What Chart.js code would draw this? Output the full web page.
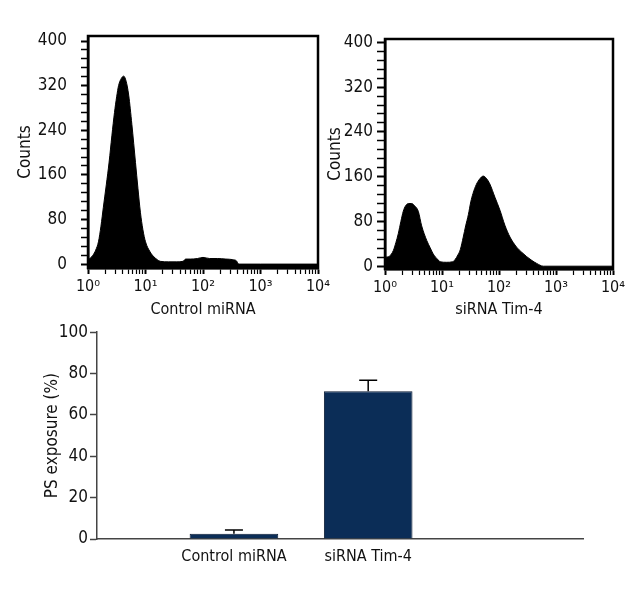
<!DOCTYPE html>
<html><head><meta charset="utf-8">
<script src="https://cdn.jsdelivr.net/npm/chart.js@4/dist/chart.umd.min.js"></script>
<style>
html,body{margin:0;padding:0;background:#fff;}
body{width:640px;height:600px;position:relative;overflow:hidden;}
canvas{position:absolute;}
</style></head><body>
<canvas id="h1" width="340" height="320" style="left:0;top:0"></canvas>
<canvas id="h2" width="320" height="320" style="left:320px;top:0"></canvas>
<canvas id="bar" width="640" height="280" style="left:0;top:320px"></canvas>
<script>
// ---- Histogram 1: Control miRNA ----
const hist1Fluor  = [1, 1.1, 1.22, 1.36, 1.52, 1.68, 1.85, 2.08, 2.33, 2.6, 2.89, 3.15, 3.4, 3.8, 4.17, 4.6, 5.1, 5.8, 6.7, 7.4, 8.15, 9, 10, 12, 14, 16, 18, 25, 35, 45, 50, 60, 80, 100, 130, 180, 250, 330, 380, 420, 1000, 10000];
const hist1Counts = [8, 11, 16, 25, 40, 68, 102, 142, 183, 230, 272, 300, 320, 333, 337, 328, 303, 250, 182, 135, 93, 62, 40, 22, 13, 8, 5, 4, 4, 5, 9, 9, 10, 12, 10, 10, 9, 8, 6, 0, 0, 0];
// ---- Histogram 2: siRNA Tim-4 ----
const hist2Fluor  = [1, 1.2, 1.4, 1.55, 1.71, 1.9, 2.09, 2.3, 2.6, 2.94, 3.3, 3.84, 4.4, 5.4, 6.2, 7.0, 8.6, 9.2, 12, 15.5, 17, 19, 21, 23.6, 26, 29, 32, 35, 40, 46, 53, 60, 69, 85, 104, 127, 156, 204, 250, 307, 380, 458, 600, 1000, 10000];
const hist2Counts = [16, 18, 28, 42, 58, 80, 98, 108, 112, 112, 108, 98, 72, 46, 33, 22, 11, 8, 7, 8, 12, 20, 30, 52, 72, 92, 115, 130, 146, 156, 161, 157, 147, 123, 100, 73, 52, 34, 25, 17, 10, 5, 0, 0, 0];
// ---- Axis ticks ----
const countTicks   = [0, 80, 160, 240, 320, 400];
const decadeValues = [1, 10, 100, 1000, 10000];
const decadeLabels = ['10\u2070', '10\u00B9', '10\u00B2', '10\u00B3', '10\u2074'];
// ---- Bar chart ----
const barCategories = ['Control miRNA', 'siRNA Tim-4'];
const barValues     = [2.5, 71.5];
const barErrors     = [1.9, 5.3];
const barTicks      = [0, 20, 40, 60, 80, 100];

const FONT = "'Liberation Sans Narrow','DejaVu Sans Condensed','Arial Narrow',sans-serif";
const TXT = '#111';

function minorCountTicks() {
  const out = [];
  for (let i = 0; i < countTicks.length; i++) {
    out.push(countTicks[i]);
    if (i < countTicks.length - 1) {
      const step = (countTicks[i + 1] - countTicks[i]) / 5;
      for (let k = 1; k < 5; k++) out.push(countTicks[i] + k * step);
    }
  }
  return out;
}
function logTicks() {
  const out = [];
  for (let d = 0; d < decadeValues.length; d++) {
    out.push(decadeValues[d]);
    if (d < decadeValues.length - 1) for (let m = 2; m <= 9; m++) out.push(decadeValues[d] * m);
  }
  return out;
}

const boxPlugin = {
  id: 'box',
  afterDraw(chart) {
    const a = chart.chartArea, c = chart.ctx;
    c.save(); c.strokeStyle = '#000'; c.lineWidth = 2.5;
    c.strokeRect(a.left, a.top, a.right - a.left, a.bottom - a.top);
    c.restore();
  }
};

function histChart(id, fluor, counts, title, cfg) {
  return new Chart(document.getElementById(id), {
    type: 'line',
    data: { datasets: [{
      data: fluor.map((f, i) => ({ x: f, y: counts[i] })),
      borderColor: '#000', backgroundColor: '#000', borderWidth: 1,
      fill: 'start', pointRadius: 0, cubicInterpolationMode: 'monotone'
    }]},
    options: {
      responsive: false, animation: false,
      layout: { padding: { top: cfg.top, right: cfg.right, left: 0, bottom: 0 } },
      plugins: { legend: { display: false }, tooltip: { enabled: false } },
      scales: {
        x: {
          type: 'logarithmic', min: 1, max: 10000,
          afterBuildTicks: s => { s.ticks = logTicks().map(v => ({ value: v })); },
          afterFit: s => { s.height = 320 - cfg.bottom; s.paddingRight = 0; s.paddingLeft = 0; },
          ticks: { autoSkip: false, maxRotation: 0, padding: 3, color: TXT,
            font: { family: FONT, size: 16 },
            callback: v => { const i = decadeValues.indexOf(v); return i >= 0 ? decadeLabels[i] : ''; } },
          grid: { drawOnChartArea: false, tickLength: 6, color: '#000',
            tickWidth: c => (c.tick && decadeValues.includes(c.tick.value)) ? 2 : 1.2 },
          border: { display: true, color: '#000', width: 2.5 },
          title: { display: true, text: title, color: TXT, font: { family: FONT, size: 16 }, padding: { top: 0, bottom: 1 } }
        },
        y: {
          min: cfg.ymin, max: cfg.ymax,
          afterBuildTicks: s => { s.ticks = minorCountTicks().map(v => ({ value: v })); },
          afterFit: s => { s.width = cfg.left; },
          ticks: { autoSkip: false, padding: cfg.tpad, color: TXT, font: { family: FONT, size: 17 },
            callback: v => countTicks.includes(v) ? String(v) : '' },
          grid: { drawOnChartArea: false, tickLength: cfg.tlen, color: '#000',
            tickWidth: c => (c.tick && countTicks.includes(c.tick.value)) ? 2 : 1.5 },
          border: { display: true, color: '#000', width: 2.5 },
          title: { display: true, text: 'Counts', color: TXT, font: { family: FONT, size: 17 }, padding: { top: cfg.tt } }
        }
      }
    },
    plugins: [boxPlugin]
  });
}

histChart('h1', hist1Fluor, hist1Counts, 'Control miRNA',
  { top: 36, right: 22, bottom: 268, left: 88, ymin: -7, ymax: 409, tpad: 14, tlen: 7, tt: 15 });
histChart('h2', hist2Fluor, hist2Counts, 'siRNA Tim-4',
  { top: 39, right: 27, bottom: 269, left: 65, ymin: -5, ymax: 406, tpad: 4, tlen: 8, tt: 5 });

const errorPlugin = {
  id: 'errorBars',
  afterDatasetsDraw(chart) {
    const meta = chart.getDatasetMeta(0), ys = chart.scales.y, c = chart.ctx;
    c.save(); c.strokeStyle = '#000'; c.lineWidth = 1.5;
    meta.data.forEach((el, i) => {
      const top = ys.getPixelForValue(barValues[i] + barErrors[i]);
      c.beginPath();
      c.moveTo(el.x, el.y); c.lineTo(el.x, top);
      c.moveTo(el.x - 9, top); c.lineTo(el.x + 9, top);
      c.stroke();
    });
    c.restore();
  }
};

new Chart(document.getElementById('bar'), {
  type: 'bar',
  data: { datasets: [{
    data: barCategories.map((c, i) => ({ x: i + 1, y: barValues[i] })),
    backgroundColor: '#0b2d57', borderColor: '#0a1a33', borderWidth: 1,
    barPercentage: 0.66, categoryPercentage: 1
  }]},
  options: {
    responsive: false, animation: false,
    layout: { padding: { top: 9, right: 57, left: 0, bottom: 0 } },
    plugins: { legend: { display: false }, tooltip: { enabled: false } },
    scales: {
      x: {
        type: 'linear', min: -0.02, max: 3.6, offset: false,
        afterBuildTicks: s => { s.ticks = barCategories.map((c, i) => ({ value: i + 1 })); },
        afterFit: s => { s.height = 61; },
        ticks: { autoSkip: false, maxRotation: 0, padding: 8, color: TXT, font: { family: FONT, size: 16 },
          callback: v => barCategories[Math.round(v) - 1] || '' },
        grid: { display: false, drawTicks: false },
        border: { display: true, color: '#444', width: 1.5 }
      },
      y: {
        min: 0, max: 100,
        afterBuildTicks: s => { s.ticks = barTicks.map(v => ({ value: v })); },
        afterFit: s => { s.width = 97; },
        ticks: { padding: 2, color: TXT, font: { family: FONT, size: 17 } },
        grid: { drawOnChartArea: false, tickLength: 7, color: '#444', tickWidth: 1.5 },
        border: { display: true, color: '#444', width: 1.5 },
        title: { display: true, text: 'PS exposure (%)', color: TXT, font: { family: FONT, size: 17 }, padding: { top: 42 } }
      }
    }
  },
  plugins: [errorPlugin]
});
</script>
</body></html>
